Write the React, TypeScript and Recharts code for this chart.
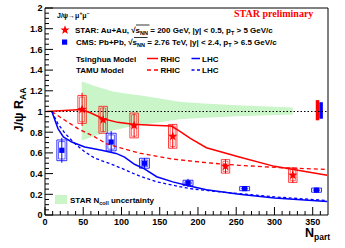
import React from 'react';
import {
  ComposedChart,
  Line,
  Area,
  Scatter,
  XAxis,
  YAxis,
  ErrorBar,
  ReferenceArea,
  ReferenceLine,
} from 'recharts';

const W = 345;
const H = 248;
const FONT = '"Liberation Sans", Arial, Helvetica, sans-serif';
const RED = '#ff0000';
const BLUE = '#0000ff';
const GREEN = '#c9f5c9';

// ---------- data ----------
const STAR_NPART = [48.5, 76, 116.5, 167, 236, 324];
const STAR_RAA = [1.02, 0.92, 0.865, 0.76, 0.47, 0.385];
const STAR_STAT = [0.16, 0.12, 0.115, 0.115, 0.07, 0.075];
const STAR_SYS = [0.135, 0.13, 0.12, 0.115, 0.065, 0.07];

const CMS_NPART = [22, 86.5, 130, 187, 261, 355];
const CMS_RAA = [0.625, 0.705, 0.5, 0.31, 0.255, 0.24];
const CMS_STAT = [0.12, 0.105, 0.05, 0.04, 0.022, 0.022];
const CMS_SYS = [0.1, 0.085, 0.048, 0.026, 0.02, 0.02];

const TSINGHUA_RHIC_NPART = [2, 25, 48, 60, 76, 95, 115, 140, 165, 176, 190, 211, 254, 300, 369];
const TSINGHUA_RHIC_RAA = [1.0, 1.01, 1.02, 0.985, 0.93, 0.895, 0.877, 0.868, 0.86, 0.81, 0.74, 0.65, 0.56, 0.47, 0.385];

const TAMU_RHIC_NPART = [9, 26, 43, 65, 80, 100, 124, 167, 211, 254, 306, 369];
const TAMU_RHIC_RAA = [1.0, 0.915, 0.835, 0.755, 0.69, 0.645, 0.598, 0.54, 0.505, 0.48, 0.458, 0.44];

const TSINGHUA_LHC_NPART = [9, 13, 17, 24, 35, 52, 74, 93, 104, 117, 130, 146, 167, 189, 211, 254, 300, 369];
const TSINGHUA_LHC_RAA = [1.0, 0.915, 0.835, 0.755, 0.705, 0.657, 0.625, 0.595, 0.56, 0.49, 0.445, 0.37, 0.32, 0.28, 0.245, 0.2, 0.165, 0.13];

const TAMU_LHC_NPART = [9, 17, 26, 39, 52, 65, 87, 102, 124, 146, 189, 233, 300, 369];
const TAMU_LHC_RAA = [1.0, 0.88, 0.79, 0.69, 0.61, 0.55, 0.49, 0.445, 0.375, 0.32, 0.255, 0.22, 0.175, 0.14];

const BAND_NPART = [48, 70, 90, 115, 130, 176, 202, 250, 324];
const BAND_HIGH = [1.29, 1.235, 1.19, 1.165, 1.15, 1.095, 1.08, 1.06, 1.038];
const BAND_LOW = [0.72, 0.775, 0.82, 0.86, 0.875, 0.925, 0.938, 0.955, 0.972];

const STAR_GLOBAL_NPART = 356.3;
const STAR_GLOBAL_UNC = [0.915, 1.11];
const CMS_GLOBAL_NPART = 361;
const CMS_GLOBAL_UNC = [0.93, 1.09];

const X_DOMAIN = [0, 370];
const Y_DOMAIN = [0, 2];
const X_MAJOR = [0, 50, 100, 150, 200, 250, 300, 350];
const Y_MAJOR = [0, 0.2, 0.4, 0.6, 0.8, 1, 1.2, 1.4, 1.6, 1.8, 2];
const Y_LABELS = ['0', '0.2', '0.4', '0.6', '0.8', '1', '1.2', '1.4', '1.6', '1.8', '2'];
const X_TICKS = Array.from({ length: 37 }, (_, i) => i * 10);
const Y_TICKS = Array.from({ length: 41 }, (_, i) => Math.round(i * 5) / 100);

// sizes (style, in axis units)
const STAR_BOX_HW = 5.5;
const CMS_BOX_HW = 6.5;
const GLOBAL_BOX_HW = 2.3;

// ---------- derived tables ----------
const toLine = (xs: number[], ys: number[]) => xs.map((x, i) => ({ x, y: ys[i] }));
const starData = STAR_NPART.map((x, i) => ({ x, y: STAR_RAA[i], stat: STAR_STAT[i] }));
const cmsData = CMS_NPART.map((x, i) => ({ x, y: CMS_RAA[i], stat: CMS_STAT[i] }));
const bandData = BAND_NPART.map((x, i) => ({ x, range: [BAND_LOW[i], BAND_HIGH[i]] }));

// ---------- ticks ----------
const isMajorY = (v: number) => Y_MAJOR.some((m) => Math.abs(m - v) < 1e-6);
const YTick = (props: any) => {
  const { x, y, payload } = props;
  const v = payload.value;
  const idx = Y_MAJOR.findIndex((m) => Math.abs(m - v) < 1e-6);
  const major = idx >= 0;
  return (
    <g>
      <line x1={x} x2={x + (major ? 8 : 4)} y1={y} y2={y} stroke="#000" strokeWidth={1} />
      {major && (
        <text x={x - 2.5} y={y + 3.3} textAnchor="end" fontSize={9} fontWeight="bold" fontFamily={FONT} fill="#000">
          {Y_LABELS[idx]}
        </text>
      )}
    </g>
  );
};
const XTick = (props: any) => {
  const { x, y, payload } = props;
  const v = payload.value;
  const major = X_MAJOR.includes(v);
  return (
    <g>
      <line x1={x} x2={x} y1={y} y2={y - (major ? 8 : 4)} stroke="#000" strokeWidth={1} />
      {major && (
        <text x={x} y={y + 10} textAnchor="middle" fontSize={9} fontWeight="bold" fontFamily={FONT} fill="#000">
          {String(v)}
        </text>
      )}
    </g>
  );
};

// ---------- markers ----------
const starPoints = (cx: number, cy: number, ro: number, ri: number) => {
  const pts: string[] = [];
  for (let k = 0; k < 10; k++) {
    const r = k % 2 === 0 ? ro : ri;
    const a = -Math.PI / 2 + (k * Math.PI) / 5;
    pts.push(`${cx + r * Math.cos(a)},${cy + r * Math.sin(a)}`);
  }
  return pts.join(' ');
};
const StarShape = (p: any) => <polygon points={starPoints(p.cx, p.cy, 4.8, 2)} fill={RED} />;
const SquareShape = (p: any) => <rect x={p.cx - 2.6} y={p.cy - 2.6} width={5.2} height={5.2} fill={BLUE} />;

const txt = { fontFamily: FONT, fontWeight: 'bold' as const, fill: '#000' };

const Overlay = () => (
  <svg width={W} height={H} style={{ position: 'absolute', left: 0, top: 0, pointerEvents: 'none' }}>
    <text x={57} y={17.5} fontSize={7} {...txt}>
      J/ψ→μ<tspan dy={-2.5} fontSize={5}>+</tspan>
      <tspan dy={2.5}>μ</tspan>
      <tspan dy={-2.5} fontSize={5}>−</tspan>
    </text>
    <text x={234} y={17} fontSize={10} fontFamily='"Liberation Serif", "Times New Roman", serif' fontWeight="bold" fill={RED}>
      STAR preliminary
    </text>

    <polygon points={starPoints(65, 30, 4.8, 2)} fill={RED} />
    <text x={75} y={32.5} fontSize={8} {...txt}>
      STAR: Au+Au, √s<tspan dy={2} fontSize={5.5}>NN</tspan>
      <tspan dy={-2}> = 200 GeV, |y| &lt; 0.5, p</tspan>
      <tspan dy={2} fontSize={5.5}>T</tspan>
      <tspan dy={-2}> &gt; 5 GeV/c</tspan>
    </text>
    <line x1={136} x2={149.5} y1={25} y2={25} stroke="#000" strokeWidth={0.8} />

    <rect x={62} y={39.5} width={5.2} height={5.2} fill={BLUE} />
    <text x={76} y={45} fontSize={8} {...txt}>
      CMS: Pb+Pb, √s<tspan dy={2} fontSize={5.5}>NN</tspan>
      <tspan dy={-2}> = 2.76 TeV, |y| &lt; 2.4, p</tspan>
      <tspan dy={2} fontSize={5.5}>T</tspan>
      <tspan dy={-2}> &gt; 6.5 GeV/c</tspan>
    </text>
    <line x1={134} x2={147.5} y1={37.5} y2={37.5} stroke="#000" strokeWidth={0.8} />

    <text x={76} y={61.5} fontSize={8} {...txt}>Tsinghua Model</text>
    <line x1={147} x2={158} y1={58.5} y2={58.5} stroke={RED} strokeWidth={1.5} />
    <text x={160.5} y={61.5} fontSize={8} {...txt}>RHIC</text>
    <line x1={191.5} x2={200} y1={58.5} y2={58.5} stroke={BLUE} strokeWidth={1.5} />
    <text x={202} y={61.5} fontSize={8} {...txt}>LHC</text>

    <text x={76} y={73} fontSize={8} {...txt}>TAMU Model</text>
    <line x1={147} x2={158} y1={70} y2={70} stroke={RED} strokeWidth={1.3} strokeDasharray="4 3" />
    <text x={160.5} y={73} fontSize={8} {...txt}>RHIC</text>
    <line x1={191.5} x2={200} y1={70} y2={70} stroke={BLUE} strokeWidth={1.3} strokeDasharray="3 2.5" />
    <text x={202} y={73} fontSize={8} {...txt}>LHC</text>

    <rect x={55} y={195} width={12} height={9} fill={GREEN} />
    <text x={70} y={203} fontSize={8} {...txt}>
      STAR N<tspan dy={2} fontSize={5.5}>coll</tspan>
      <tspan dy={-2}> uncertainty</tspan>
    </text>

    <text x={23} y={110} fontSize={12.5} transform="rotate(-90 23 110)" textAnchor="middle" {...txt}>
      J/ψ R<tspan dy={3} fontSize={8.5}>AA</tspan>
    </text>

    <text x={305} y={236.5} fontSize={12.5} {...txt}>
      N<tspan dy={3} fontSize={8.5}>part</tspan>
    </text>
  </svg>
);

export default function App() {
  return (
    <div style={{ position: 'absolute', left: 0, top: 0, width: W, height: H, background: '#fff' }}>
      <ComposedChart width={W} height={H} margin={{ top: 8, right: 17, bottom: 0, left: 0 }}>
        <XAxis
          type="number"
          dataKey="x"
          domain={X_DOMAIN}
          ticks={X_TICKS}
          interval={0}
          tick={<XTick />}
          tickSize={0}
          tickMargin={0}
          axisLine={false}
          tickLine={false}
          height={33}
          allowDataOverflow
        />
        <YAxis
          type="number"
          dataKey="y"
          domain={Y_DOMAIN}
          ticks={Y_TICKS}
          interval={0}
          tick={<YTick />}
          tickSize={0}
          tickMargin={0}
          axisLine={false}
          tickLine={false}
          width={45}
          allowDataOverflow
        />
        <Area
          data={bandData}
          dataKey="range"
          type="linear"
          stroke="none"
          fill={GREEN}
          fillOpacity={1}
          isAnimationActive={false}
        />
        <ReferenceLine y={1} stroke="#000" strokeWidth={1} strokeDasharray="1.5 2" />

        {STAR_NPART.map((n, i) => (
          <ReferenceArea
            key={'so' + i}
            x1={n - STAR_BOX_HW}
            x2={n + STAR_BOX_HW}
            y1={STAR_RAA[i] - STAR_SYS[i]}
            y2={STAR_RAA[i] + STAR_SYS[i]}
            fill="none"
            fillOpacity={0}
            stroke={RED}
            strokeOpacity={0.75}
            strokeWidth={1}
            ifOverflow="visible"
          />
        ))}
        {STAR_NPART.map((n, i) => (
          <ReferenceArea
            key={'si' + i}
            x1={n - STAR_BOX_HW + 2.2}
            x2={n + STAR_BOX_HW - 2.2}
            y1={STAR_RAA[i] - STAR_SYS[i] + 0.016}
            y2={STAR_RAA[i] + STAR_SYS[i] - 0.016}
            fill="none"
            fillOpacity={0}
            stroke={RED}
            strokeOpacity={0.55}
            strokeWidth={1}
            ifOverflow="visible"
          />
        ))}
        {CMS_NPART.map((n, i) => (
          <ReferenceArea
            key={'co' + i}
            x1={n - CMS_BOX_HW}
            x2={n + CMS_BOX_HW}
            y1={CMS_RAA[i] - CMS_SYS[i]}
            y2={CMS_RAA[i] + CMS_SYS[i]}
            fill="none"
            fillOpacity={0}
            stroke={BLUE}
            strokeOpacity={0.8}
            strokeWidth={1}
            ifOverflow="visible"
          />
        ))}
        {CMS_NPART.map((n, i) => (
          <ReferenceArea
            key={'ci' + i}
            x1={n - CMS_BOX_HW + 2.2}
            x2={n + CMS_BOX_HW - 2.2}
            y1={CMS_RAA[i] - CMS_SYS[i] + 0.016}
            y2={CMS_RAA[i] + CMS_SYS[i] - 0.016}
            fill="none"
            fillOpacity={0}
            stroke={BLUE}
            strokeOpacity={0.6}
            strokeWidth={1}
            ifOverflow="visible"
          />
        ))}

        <ReferenceArea
          x1={STAR_GLOBAL_NPART - GLOBAL_BOX_HW}
          x2={STAR_GLOBAL_NPART + GLOBAL_BOX_HW}
          y1={STAR_GLOBAL_UNC[0]}
          y2={STAR_GLOBAL_UNC[1]}
          fill={RED}
          fillOpacity={1}
          stroke="none"
        />
        <ReferenceArea
          x1={CMS_GLOBAL_NPART - GLOBAL_BOX_HW}
          x2={CMS_GLOBAL_NPART + GLOBAL_BOX_HW}
          y1={CMS_GLOBAL_UNC[0]}
          y2={CMS_GLOBAL_UNC[1]}
          fill={BLUE}
          fillOpacity={1}
          stroke="none"
        />

        <Line data={toLine(TAMU_RHIC_NPART, TAMU_RHIC_RAA)} dataKey="y" type="linear" stroke={RED} strokeWidth={1.3} strokeDasharray="4 3" dot={false} activeDot={false} isAnimationActive={false} />
        <Line data={toLine(TAMU_LHC_NPART, TAMU_LHC_RAA)} dataKey="y" type="linear" stroke={BLUE} strokeWidth={1.3} strokeDasharray="3 2.5" dot={false} activeDot={false} isAnimationActive={false} />
        <Line data={toLine(TSINGHUA_RHIC_NPART, TSINGHUA_RHIC_RAA)} dataKey="y" type="linear" stroke={RED} strokeWidth={1.5} dot={false} activeDot={false} isAnimationActive={false} />
        <Line data={toLine(TSINGHUA_LHC_NPART, TSINGHUA_LHC_RAA)} dataKey="y" type="linear" stroke={BLUE} strokeWidth={1.5} dot={false} activeDot={false} isAnimationActive={false} />

        <Scatter data={starData} dataKey="y" shape={StarShape} fill={RED} isAnimationActive={false}>
          <ErrorBar dataKey="stat" direction="y" width={0} stroke={RED} strokeWidth={1} />
        </Scatter>
        <Scatter data={cmsData} dataKey="y" shape={SquareShape} fill={BLUE} isAnimationActive={false}>
          <ErrorBar dataKey="stat" direction="y" width={0} stroke={BLUE} strokeWidth={1} />
        </Scatter>

        <ReferenceArea
          x1={X_DOMAIN[0]}
          x2={X_DOMAIN[1]}
          y1={Y_DOMAIN[0]}
          y2={Y_DOMAIN[1]}
          fill="none"
          fillOpacity={0}
          stroke="#000"
          strokeWidth={1}
          ifOverflow="visible"
        />
      </ComposedChart>
      <Overlay />
    </div>
  );
}
